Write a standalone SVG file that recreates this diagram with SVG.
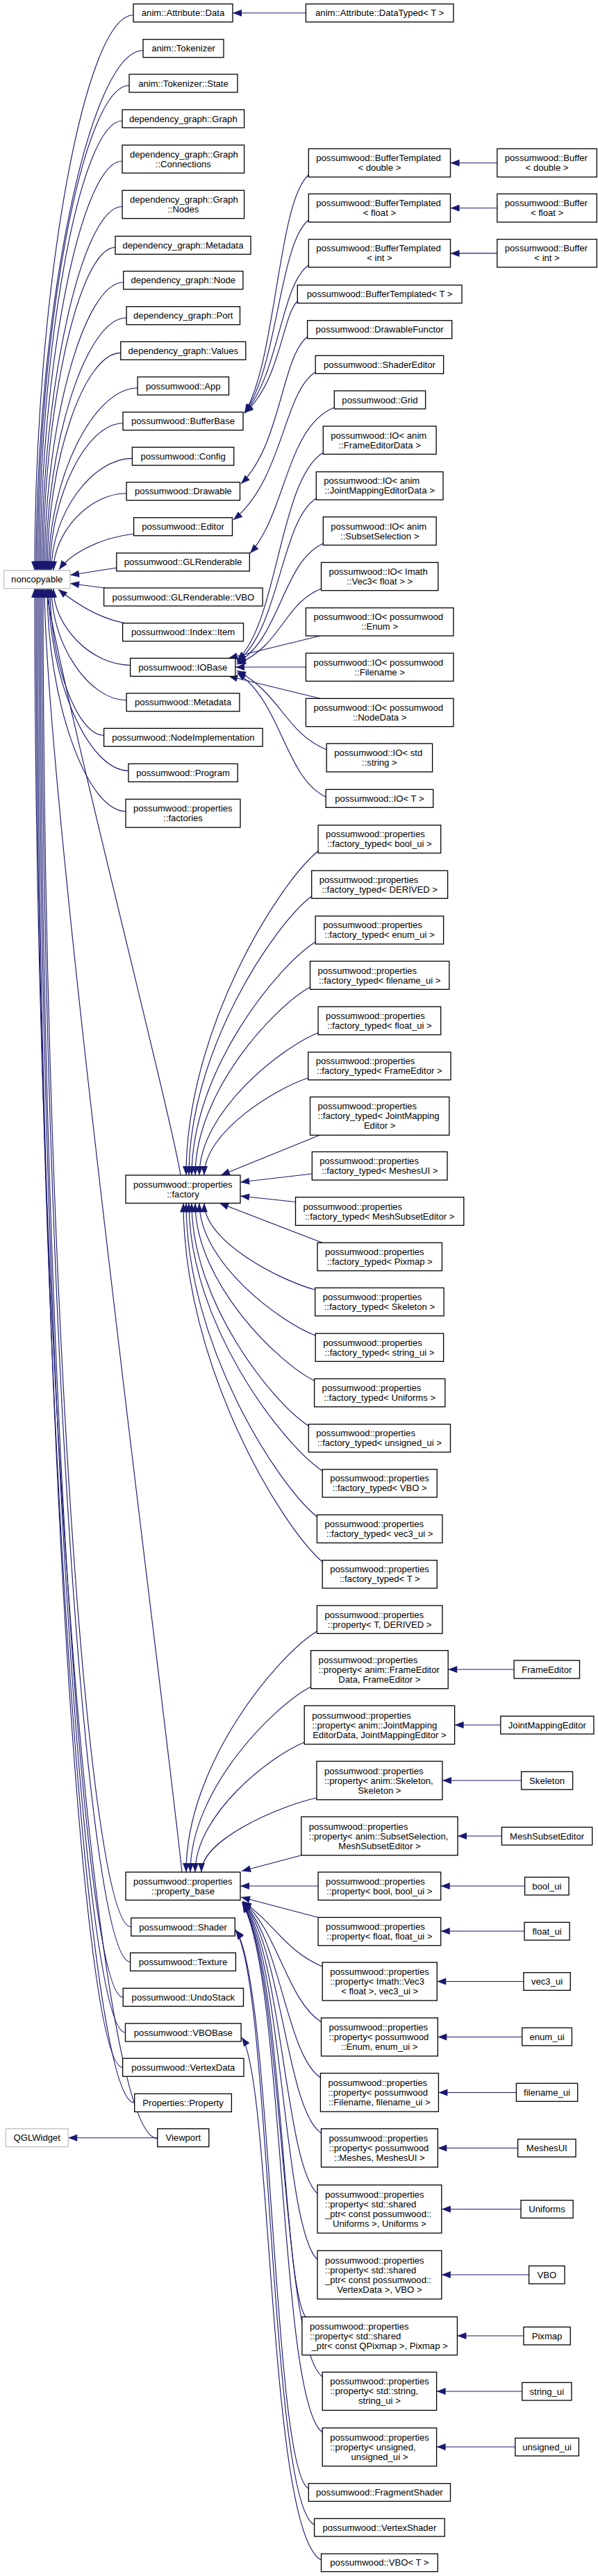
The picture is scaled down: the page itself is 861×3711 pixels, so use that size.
<svg xmlns="http://www.w3.org/2000/svg" width="861" height="3711" viewBox="0 0 861 3711">
<defs>
<marker id="ah" markerUnits="userSpaceOnUse" markerWidth="14" markerHeight="10" refX="13" refY="5" orient="auto" overflow="visible"><path d="M0,0 L13,5 L0,10 z" fill="#191970"/></marker>
</defs>
<style>
text{font-family:"Liberation Sans",Arial,Helvetica,sans-serif;font-size:13.1px;fill:#000;text-anchor:middle}
text.l{text-anchor:start}
.n rect{fill:#fff;stroke:#000;stroke-width:1.3}
.x rect{fill:#fff;stroke:#bfbfbf;stroke-width:1.3}
#edges path{fill:none;stroke:#191970;stroke-width:1.15;marker-end:url(#ah)}
</style>
<rect width="861" height="3711" fill="#fff"/>
<g id="edges">
<path d="M192,21.7 C121,21.7 50,421.7 50,821.7"/>
<path d="M206,72.7 C129,72.7 52,447.2 52,821.7"/>
<path d="M186,123 C120,123 54,472.4 54,821.7"/>
<path d="M176,174 C116,174 56,497.9 56,821.7"/>
<path d="M176,232 C117,232 58,526.9 58,821.7"/>
<path d="M176,297.5 C118,297.5 60,559.6 60,821.7"/>
<path d="M166,356.3 C114,356.3 62,589 62,821.7"/>
<path d="M177.7,406.7 C120.9,406.7 64,614.2 64,821.7"/>
<path d="M182.1,457.7 C124,457.7 66,639.7 66,821.7"/>
<path d="M173.8,508.3 C120.9,508.3 68,665 68,821.7"/>
<path d="M198.1,559 C134,559 70,690.4 70,821.7"/>
<path d="M177,609.7 C124.5,609.7 72,715.7 72,821.7"/>
<path d="M190.4,660.3 C132.2,660.3 74,741 74,821.7"/>
<path d="M182.1,710.7 C129.5,710.7 77,766.2 77,821.7"/>
<path d="M193,769 C140,775 100,800 85,820.5"/>
<path d="M167.8,818 L101,828.5"/>
<path d="M158,848 L101,840.5"/>
<path d="M188,899 C140,893 100,862 84,849"/>
<path d="M187.6,958.3 C132.3,958.3 77,903 77,847.7"/>
<path d="M182.1,1008.7 C128,1008.7 74,928.2 74,847.7"/>
<path d="M149.6,1059.3 C110.8,1059.3 72,953.5 72,847.7"/>
<path d="M184.9,1110.3 C127.5,1110.3 70,979 70,847.7"/>
<path d="M181,1168.7 C124.5,1168.7 68,1008.2 68,847.7"/>
<path d="M260,1693 C245,1600 90,1000 66,847.7"/>
<path d="M262,2697 C230,2400 66,1150 64,847.7"/>
<path d="M188.8,2776 C125.4,2776 62,1811.9 62,847.7"/>
<path d="M187.6,2826.3 C123.8,2826.3 60,1837 60,847.7"/>
<path d="M177.2,2877.3 C117.6,2877.3 58,1862.5 58,847.7"/>
<path d="M180.5,2928 C118.3,2928 56,1887.9 56,847.7"/>
<path d="M176.6,2978.3 C115.3,2978.3 54,1913 54,847.7"/>
<path d="M193.7,3029.3 C122.9,3029.3 52,1938.5 52,847.7"/>
<path d="M226.8,3080.7 C138.4,3080.7 50,1964.2 50,847.7"/>
<path d="M440.4,18.7 L335,18.7"/>
<path d="M444.3,252 C400,290 398,520 352,595"/>
<path d="M444.3,317 C402,350 400,530 352,595"/>
<path d="M444.3,382 C404,410 402,540 352,595"/>
<path d="M428.3,434 C406,455 404,550 352,595"/>
<path d="M715.8,234.7 L648.5,234.7"/>
<path d="M715.8,299.7 L648.5,299.7"/>
<path d="M715.8,364.9 L648.5,364.9"/>
<path d="M442.6,485 C405,515 405,640 347,697"/>
<path d="M454.2,536 C408,565 408,690 336,749"/>
<path d="M481.3,587 C412,615 412,740 360,797"/>
<path d="M465.3,652 C402,690 400,900 341,951"/>
<path d="M455.3,718 C404,750 402,910 341,953"/>
<path d="M465.3,783 C406,810 404,920 341,955"/>
<path d="M462.5,848 C408,870 406,930 341,957"/>
<path d="M461,916 L329,948.3"/>
<path d="M440.4,961 L339,961"/>
<path d="M461,1006.3 L329,974"/>
<path d="M470.2,1080 C410,1055 405,1000 341,966"/>
<path d="M469.1,1148 C410,1120 405,1010 341,969"/>
<path d="M458.1,1226 C401.1,1272.7 268,1482.9 268,1693"/>
<path d="M448.7,1291 C395.7,1331.2 272,1512.1 272,1693"/>
<path d="M454.2,1357 C400.7,1390.6 276,1541.8 276,1693"/>
<path d="M446.5,1422 C396.9,1449.1 281,1571 281,1693"/>
<path d="M458.1,1487.7 C406.8,1508.2 287,1600.6 287,1693"/>
<path d="M443.7,1553 C398.8,1567 294,1630 294,1693"/>
<path d="M461,1635 L318,1693"/>
<path d="M449.3,1691 L346,1703"/>
<path d="M425.5,1731.5 L346,1723"/>
<path d="M464,1790.3 L316,1733.3"/>
<path d="M453.7,1858 C405.8,1845.5 294,1789.4 294,1733.3"/>
<path d="M454.2,1924 C404,1904.9 287,1819 287,1733.3"/>
<path d="M452.6,1989 C401.1,1963.4 281,1848 281,1733.3"/>
<path d="M444.3,2054 C393.8,2022 276,1877 276,1733.3"/>
<path d="M464.2,2119 C406.5,2080.4 272,1906.9 272,1733.3"/>
<path d="M456.4,2185 C399.9,2139.8 268,1936.6 268,1733.3"/>
<path d="M464.2,2250 C404.1,2198.3 264,1965.8 264,1733.3"/>
<path d="M456.4,2350 C399.9,2384.7 268,2540.9 268,2697"/>
<path d="M447.6,2430 C395.5,2456.7 274,2576.9 274,2697"/>
<path d="M438.2,2510 C391,2528.7 281,2612.9 281,2697"/>
<path d="M455.9,2590 C406.1,2600.7 290,2648.9 290,2697"/>
<path d="M434,2672.7 L348,2695.5"/>
<path d="M458.1,2717 L346,2717"/>
<path d="M458.1,2762.3 L347,2733"/>
<path d="M464.2,2833 C410,2810 395,2770 349,2739"/>
<path d="M462.5,2913 C412,2880 400,2780 349,2739"/>
<path d="M461.4,2993 C412,2960 403,2790 349,2740"/>
<path d="M462.5,3073 C412,3040 405,2800 349,2740"/>
<path d="M457,3160 C410,3120 406,2810 349,2741"/>
<path d="M457,3255 C408,3210 407,2820 349,2741"/>
<path d="M440,3338 C406,3290 408,2830 349,2742"/>
<path d="M464.2,3424 C404,3380 409,2840 349,2742"/>
<path d="M464.2,3504 C402,3460 410,2850 349,2742"/>
<path d="M444.3,3585 C392,3560 392,2850 339,2780"/>
<path d="M452.6,3637 C388,3610 390,2850 339,2781"/>
<path d="M462.5,3688 C386,3650 392,3000 348,2935"/>
<path d="M740.1,2405 L645.2,2405"/>
<path d="M720.8,2485 L654.6,2485"/>
<path d="M750.6,2565 L636.9,2565"/>
<path d="M722.4,2645 L659,2645"/>
<path d="M755.6,2717 L634.7,2717"/>
<path d="M755,2782 L634.7,2782"/>
<path d="M753.9,2854.5 L629.2,2854.5"/>
<path d="M751.7,2934.5 L630.3,2934.5"/>
<path d="M743.4,3014.5 L631.4,3014.5"/>
<path d="M745.6,3094.5 L630.3,3094.5"/>
<path d="M750,3182.5 L635.8,3182.5"/>
<path d="M761.6,3277 L635.8,3277"/>
<path d="M753.9,3365 L658.4,3365"/>
<path d="M751.7,3445 L628.6,3445"/>
<path d="M741.8,3525 L628.6,3525"/>
<path d="M226.8,3079.7 L98.2,3079.7"/>
</g>
<g id="noncopyable" class="x"><rect x="5.5" y="821.7" width="95.5" height="26"/><text x="53.25" y="839.2">noncopyable</text></g>
<g id="qglwidget" class="x"><rect x="8.3" y="3066.7" width="89.9" height="26"/><text x="53.25" y="3084.2">QGLWidget</text></g>
<g id="attr_data" class="n"><rect x="192" y="5.7" width="143" height="26"/><text x="263.5" y="23.2">anim::Attribute::Data</text></g>
<g id="tokenizer" class="n"><rect x="206" y="56.7" width="116" height="26"/><text x="264" y="74.2">anim::Tokenizer</text></g>
<g id="tok_state" class="n"><rect x="186" y="107" width="156" height="26"/><text x="264" y="124.5">anim::Tokenizer::State</text></g>
<g id="dg_graph" class="n"><rect x="176" y="158" width="175.6" height="26"/><text x="263.8" y="175.5">dependency_graph::Graph</text></g>
<g id="dg_conn" class="n"><rect x="176" y="209" width="175.6" height="40.3"/><text class="l" x="187" y="226.65">dependency_graph::Graph</text><text x="263.8" y="240.65">::Connections</text></g>
<g id="dg_nodes" class="n"><rect x="176" y="274.3" width="175.6" height="40.4"/><text class="l" x="187" y="292">dependency_graph::Graph</text><text x="263.8" y="306">::Nodes</text></g>
<g id="dg_meta" class="n"><rect x="166" y="340.3" width="195" height="26"/><text x="263.5" y="357.8">dependency_graph::Metadata</text></g>
<g id="dg_node" class="n"><rect x="177.7" y="390.7" width="172.2" height="26"/><text x="263.8" y="408.2">dependency_graph::Node</text></g>
<g id="dg_port" class="n"><rect x="182.1" y="441.7" width="163.4" height="26"/><text x="263.8" y="459.2">dependency_graph::Port</text></g>
<g id="dg_values" class="n"><rect x="173.8" y="492.3" width="180" height="26"/><text x="263.8" y="509.8">dependency_graph::Values</text></g>
<g id="pw_app" class="n"><rect x="198.1" y="543" width="131.4" height="26"/><text x="263.8" y="560.5">possumwood::App</text></g>
<g id="pw_bufbase" class="n"><rect x="177" y="593.7" width="173" height="26"/><text x="263.5" y="611.2">possumwood::BufferBase</text></g>
<g id="pw_config" class="n"><rect x="190.4" y="644.3" width="146.3" height="26"/><text x="263.55" y="661.8">possumwood::Config</text></g>
<g id="pw_drawable" class="n"><rect x="182.1" y="694.7" width="163.4" height="26"/><text x="263.8" y="712.2">possumwood::Drawable</text></g>
<g id="pw_editor" class="n"><rect x="192.6" y="745.7" width="141.9" height="26"/><text x="263.55" y="763.2">possumwood::Editor</text></g>
<g id="pw_glr" class="n"><rect x="167.8" y="796.7" width="191.5" height="26"/><text x="263.55" y="814.2">possumwood::GLRenderable</text></g>
<g id="pw_glrvbo" class="n"><rect x="149.6" y="847" width="228.5" height="26"/><text x="263.85" y="864.5">possumwood::GLRenderable::VBO</text></g>
<g id="pw_item" class="n"><rect x="176.6" y="897.7" width="173.9" height="26"/><text x="263.55" y="915.2">possumwood::Index::Item</text></g>
<g id="pw_iobase" class="n"><rect x="187.6" y="948.3" width="151.3" height="26"/><text x="263.25" y="965.8">possumwood::IOBase</text></g>
<g id="pw_meta" class="n"><rect x="182.1" y="998.7" width="162.8" height="26"/><text x="263.5" y="1016.2">possumwood::Metadata</text></g>
<g id="pw_nodeimpl" class="n"><rect x="149.6" y="1049.3" width="228.5" height="26"/><text x="263.85" y="1066.8">possumwood::NodeImplementation</text></g>
<g id="pw_program" class="n"><rect x="184.9" y="1100.3" width="157.3" height="26"/><text x="263.55" y="1117.8">possumwood::Program</text></g>
<g id="pw_factories" class="n"><rect x="181" y="1151.3" width="165" height="40.7"/><text class="l" x="192" y="1169.15">possumwood::properties</text><text x="263.5" y="1183.15">::factories</text></g>
<g id="pw_factory" class="n"><rect x="181" y="1693" width="165" height="40.3"/><text class="l" x="192" y="1710.65">possumwood::properties</text><text x="263.5" y="1724.65">::factory</text></g>
<g id="pw_propbase" class="n"><rect x="181" y="2697" width="165" height="40.3"/><text class="l" x="192" y="2714.65">possumwood::properties</text><text x="263.5" y="2728.65">::property_base</text></g>
<g id="pw_shader" class="n"><rect x="188.8" y="2763" width="149.5" height="26"/><text x="263.55" y="2780.5">possumwood::Shader</text></g>
<g id="pw_texture" class="n"><rect x="187.6" y="2813.3" width="151.8" height="26"/><text x="263.5" y="2830.8">possumwood::Texture</text></g>
<g id="pw_undo" class="n"><rect x="177.2" y="2864.3" width="173.3" height="26"/><text x="263.85" y="2881.8">possumwood::UndoStack</text></g>
<g id="pw_vbobase" class="n"><rect x="180.5" y="2915" width="166.6" height="26"/><text x="263.8" y="2932.5">possumwood::VBOBase</text></g>
<g id="pw_vertexdata" class="n"><rect x="176.6" y="2965.3" width="174.4" height="26"/><text x="263.8" y="2982.8">possumwood::VertexData</text></g>
<g id="props_property" class="n"><rect x="193.7" y="3016.3" width="139.7" height="26"/><text x="263.55" y="3033.8">Properties::Property</text></g>
<g id="viewport" class="n"><rect x="226.8" y="3066.7" width="74" height="26"/><text x="263.8" y="3084.2">Viewport</text></g>
<g id="datatyped" class="n"><rect x="440.4" y="5.7" width="212.5" height="26"/><text x="546.65" y="23.2">anim::Attribute::DataTyped&lt; T &gt;</text></g>
<g id="bt_double" class="n"><rect x="444.3" y="214.3" width="204.2" height="40.7"/><text class="l" x="455.3" y="232.15">possumwood::BufferTemplated</text><text x="546.4" y="246.15">&lt; double &gt;</text></g>
<g id="bt_float" class="n"><rect x="444.3" y="279.3" width="204.2" height="40.7"/><text class="l" x="455.3" y="297.15">possumwood::BufferTemplated</text><text x="546.4" y="311.15">&lt; float &gt;</text></g>
<g id="bt_int" class="n"><rect x="444.3" y="344.7" width="204.2" height="40.3"/><text class="l" x="455.3" y="362.35">possumwood::BufferTemplated</text><text x="546.4" y="376.35">&lt; int &gt;</text></g>
<g id="bt_T" class="n"><rect x="428.3" y="410.7" width="236.7" height="26"/><text x="546.65" y="428.2">possumwood::BufferTemplated&lt; T &gt;</text></g>
<g id="drawfunc" class="n"><rect x="442.6" y="461.7" width="208.1" height="26"/><text x="546.65" y="479.2">possumwood::DrawableFunctor</text></g>
<g id="shadereditor" class="n"><rect x="454.2" y="512.3" width="184.4" height="26"/><text x="546.4" y="529.8">possumwood::ShaderEditor</text></g>
<g id="grid" class="n"><rect x="481.3" y="563" width="131.3" height="26"/><text x="546.95" y="580.5">possumwood::Grid</text></g>
<g id="io_fed" class="n"><rect x="465.3" y="614" width="162.8" height="40.3"/><text class="l" x="476.3" y="631.65">possumwood::IO&lt; anim</text><text x="546.7" y="645.65">::FrameEditorData &gt;</text></g>
<g id="io_jmed" class="n"><rect x="455.3" y="679.7" width="182.7" height="40.3"/><text class="l" x="466.3" y="697.35">possumwood::IO&lt; anim</text><text x="546.65" y="711.35">::JointMappingEditorData &gt;</text></g>
<g id="io_subset" class="n"><rect x="465.3" y="744.7" width="162.8" height="40.6"/><text class="l" x="476.3" y="762.5">possumwood::IO&lt; anim</text><text x="546.7" y="776.5">::SubsetSelection &gt;</text></g>
<g id="io_vec3" class="n"><rect x="462.5" y="810.3" width="168.3" height="40.4"/><text class="l" x="473.5" y="828">possumwood::IO&lt; Imath</text><text x="546.65" y="842">::Vec3&lt; float &gt; &gt;</text></g>
<g id="io_enum" class="n"><rect x="440.4" y="875.7" width="212.5" height="40.3"/><text class="l" x="451.4" y="893.35">possumwood::IO&lt; possumwood</text><text x="546.65" y="907.35">::Enum &gt;</text></g>
<g id="io_filename" class="n"><rect x="440.4" y="941" width="212.5" height="40.3"/><text class="l" x="451.4" y="958.65">possumwood::IO&lt; possumwood</text><text x="546.65" y="972.65">::Filename &gt;</text></g>
<g id="io_nodedata" class="n"><rect x="440.4" y="1006.3" width="212.5" height="40.4"/><text class="l" x="451.4" y="1024">possumwood::IO&lt; possumwood</text><text x="546.65" y="1038">::NodeData &gt;</text></g>
<g id="io_string" class="n"><rect x="470.2" y="1071.3" width="152.4" height="40.7"/><text class="l" x="481.2" y="1089.15">possumwood::IO&lt; std</text><text x="546.4" y="1103.15">::string &gt;</text></g>
<g id="io_T" class="n"><rect x="469.1" y="1137.3" width="154.6" height="26"/><text x="546.4" y="1154.8">possumwood::IO&lt; T &gt;</text></g>
<g id="ft_bool" class="n"><rect x="458.1" y="1188.7" width="176.6" height="40.3"/><text class="l" x="469.1" y="1206.35">possumwood::properties</text><text x="546.4" y="1220.35">::factory_typed&lt; bool_ui &gt;</text></g>
<g id="ft_derived" class="n"><rect x="448.7" y="1254.3" width="195.9" height="40"/><text class="l" x="459.7" y="1271.8">possumwood::properties</text><text x="546.65" y="1285.8">::factory_typed&lt; DERIVED &gt;</text></g>
<g id="ft_enum" class="n"><rect x="454.2" y="1319.7" width="184.4" height="40.3"/><text class="l" x="465.2" y="1337.35">possumwood::properties</text><text x="546.4" y="1351.35">::factory_typed&lt; enum_ui &gt;</text></g>
<g id="ft_filename" class="n"><rect x="446.5" y="1384.7" width="200.3" height="40.6"/><text class="l" x="457.5" y="1402.5">possumwood::properties</text><text x="546.65" y="1416.5">::factory_typed&lt; filename_ui &gt;</text></g>
<g id="ft_float" class="n"><rect x="458.1" y="1450.3" width="176.6" height="40.4"/><text class="l" x="469.1" y="1468">possumwood::properties</text><text x="546.4" y="1482">::factory_typed&lt; float_ui &gt;</text></g>
<g id="ft_frameeditor" class="n"><rect x="443.7" y="1515.7" width="205.3" height="40"/><text class="l" x="454.7" y="1533.2">possumwood::properties</text><text x="546.35" y="1547.2">::factory_typed&lt; FrameEditor &gt;</text></g>
<g id="ft_joint" class="n"><rect x="446.5" y="1580.3" width="200.3" height="55"/><text class="l" x="457.5" y="1598.3">possumwood::properties</text><text class="l" x="457.5" y="1612.3">::factory_typed&lt; JointMapping</text><text x="546.65" y="1626.3">Editor &gt;</text></g>
<g id="ft_meshesui" class="n"><rect x="449.3" y="1659.3" width="194.7" height="40.7"/><text class="l" x="460.3" y="1677.15">possumwood::properties</text><text x="546.65" y="1691.15">::factory_typed&lt; MeshesUI &gt;</text></g>
<g id="ft_meshsubset" class="n"><rect x="425.5" y="1724.7" width="242.3" height="40.6"/><text class="l" x="436.5" y="1742.5">possumwood::properties</text><text x="546.65" y="1756.5">::factory_typed&lt; MeshSubsetEditor &gt;</text></g>
<g id="ft_pixmap" class="n"><rect x="457" y="1790.3" width="179.4" height="40.4"/><text class="l" x="468" y="1808">possumwood::properties</text><text x="546.7" y="1822">::factory_typed&lt; Pixmap &gt;</text></g>
<g id="ft_skeleton" class="n"><rect x="453.7" y="1855.3" width="185.4" height="40.4"/><text class="l" x="464.7" y="1873">possumwood::properties</text><text x="546.4" y="1887">::factory_typed&lt; Skeleton &gt;</text></g>
<g id="ft_string" class="n"><rect x="454.2" y="1921" width="184.4" height="40.3"/><text class="l" x="465.2" y="1938.65">possumwood::properties</text><text x="546.4" y="1952.65">::factory_typed&lt; string_ui &gt;</text></g>
<g id="ft_uniforms" class="n"><rect x="452.6" y="1986.3" width="188.2" height="40.4"/><text class="l" x="463.6" y="2004">possumwood::properties</text><text x="546.7" y="2018">::factory_typed&lt; Uniforms &gt;</text></g>
<g id="ft_unsigned" class="n"><rect x="444.3" y="2051.7" width="204.2" height="40.3"/><text class="l" x="455.3" y="2069.35">possumwood::properties</text><text x="546.4" y="2083.35">::factory_typed&lt; unsigned_ui &gt;</text></g>
<g id="ft_vbo" class="n"><rect x="464.2" y="2116.7" width="165" height="40.3"/><text class="l" x="475.2" y="2134.35">possumwood::properties</text><text x="546.7" y="2148.35">::factory_typed&lt; VBO &gt;</text></g>
<g id="ft_vec3" class="n"><rect x="456.4" y="2182.3" width="180.5" height="40.4"/><text class="l" x="467.4" y="2200">possumwood::properties</text><text x="546.65" y="2214">::factory_typed&lt; vec3_ui &gt;</text></g>
<g id="ft_T" class="n"><rect x="464.2" y="2247.7" width="165" height="40.3"/><text class="l" x="475.2" y="2265.35">possumwood::properties</text><text x="546.7" y="2279.35">::factory_typed&lt; T &gt;</text></g>
<g id="pr_T" class="n"><rect x="456.4" y="2313" width="180.5" height="40.3"/><text class="l" x="467.4" y="2330.65">possumwood::properties</text><text x="546.65" y="2344.65">::property&lt; T, DERIVED &gt;</text></g>
<g id="pr_frame" class="n"><rect x="447.6" y="2377.7" width="197.6" height="55"/><text class="l" x="458.6" y="2395.7">possumwood::properties</text><text class="l" x="458.6" y="2409.7">::property&lt; anim::FrameEditor</text><text x="546.4" y="2423.7">Data, FrameEditor &gt;</text></g>
<g id="pr_joint" class="n"><rect x="438.2" y="2457.3" width="216.4" height="55.4"/><text class="l" x="449.2" y="2475.5">possumwood::properties</text><text class="l" x="449.2" y="2489.5">::property&lt; anim::JointMapping</text><text x="546.4" y="2503.5">EditorData, JointMappingEditor &gt;</text></g>
<g id="pr_skel" class="n"><rect x="455.9" y="2537.3" width="181" height="55.4"/><text class="l" x="466.9" y="2555.5">possumwood::properties</text><text class="l" x="466.9" y="2569.5">::property&lt; anim::Skeleton,</text><text x="546.4" y="2583.5">Skeleton &gt;</text></g>
<g id="pr_subset" class="n"><rect x="433.8" y="2617.3" width="225.2" height="55.4"/><text class="l" x="444.8" y="2635.5">possumwood::properties</text><text class="l" x="444.8" y="2649.5">::property&lt; anim::SubsetSelection,</text><text x="546.4" y="2663.5">MeshSubsetEditor &gt;</text></g>
<g id="pr_bool" class="n"><rect x="458.1" y="2697" width="176.6" height="40.3"/><text class="l" x="469.1" y="2714.65">possumwood::properties</text><text x="546.4" y="2728.65">::property&lt; bool, bool_ui &gt;</text></g>
<g id="pr_float" class="n"><rect x="458.1" y="2762.3" width="176.6" height="40.4"/><text class="l" x="469.1" y="2780">possumwood::properties</text><text x="546.4" y="2794">::property&lt; float, float_ui &gt;</text></g>
<g id="pr_vec3" class="n"><rect x="464.2" y="2827" width="165" height="55"/><text class="l" x="475.2" y="2845">possumwood::properties</text><text class="l" x="475.2" y="2859">::property&lt; Imath::Vec3</text><text x="546.7" y="2873">&lt; float &gt;, vec3_ui &gt;</text></g>
<g id="pr_enum" class="n"><rect x="462.5" y="2907" width="167.8" height="55"/><text class="l" x="473.5" y="2925">possumwood::properties</text><text class="l" x="473.5" y="2939">::property&lt; possumwood</text><text x="546.4" y="2953">::Enum, enum_ui &gt;</text></g>
<g id="pr_filename" class="n"><rect x="461.4" y="2986.7" width="170" height="55.3"/><text class="l" x="472.4" y="3004.85">possumwood::properties</text><text class="l" x="472.4" y="3018.85">::property&lt; possumwood</text><text x="546.4" y="3032.85">::Filename, filename_ui &gt;</text></g>
<g id="pr_meshes" class="n"><rect x="462.5" y="3066.7" width="167.8" height="55.3"/><text class="l" x="473.5" y="3084.85">possumwood::properties</text><text class="l" x="473.5" y="3098.85">::property&lt; possumwood</text><text x="546.4" y="3112.85">::Meshes, MeshesUI &gt;</text></g>
<g id="pr_uniforms" class="n"><rect x="457" y="3147.7" width="178.8" height="69.3"/><text class="l" x="468" y="3165.85">possumwood::properties</text><text class="l" x="468" y="3179.85">::property&lt; std::shared</text><text class="l" x="468" y="3193.85">_ptr&lt; const possumwood::</text><text x="546.4" y="3207.85">Uniforms &gt;, Uniforms &gt;</text></g>
<g id="pr_vertex" class="n"><rect x="457" y="3242.3" width="178.8" height="69.7"/><text class="l" x="468" y="3260.65">possumwood::properties</text><text class="l" x="468" y="3274.65">::property&lt; std::shared</text><text class="l" x="468" y="3288.65">_ptr&lt; const possumwood::</text><text x="546.4" y="3302.65">VertexData &gt;, VBO &gt;</text></g>
<g id="pr_pixmap" class="n"><rect x="434.9" y="3337.7" width="223.5" height="55"/><text class="l" x="445.9" y="3355.7">possumwood::properties</text><text class="l" x="445.9" y="3369.7">::property&lt; std::shared</text><text x="546.65" y="3383.7">_ptr&lt; const QPixmap &gt;, Pixmap &gt;</text></g>
<g id="pr_string" class="n"><rect x="464.2" y="3417.3" width="164.4" height="55"/><text class="l" x="475.2" y="3435.3">possumwood::properties</text><text class="l" x="475.2" y="3449.3">::property&lt; std::string,</text><text x="546.4" y="3463.3">string_ui &gt;</text></g>
<g id="pr_unsigned" class="n"><rect x="464.2" y="3497.7" width="164.4" height="55"/><text class="l" x="475.2" y="3515.7">possumwood::properties</text><text class="l" x="475.2" y="3529.7">::property&lt; unsigned,</text><text x="546.4" y="3543.7">unsigned_ui &gt;</text></g>
<g id="fragshader" class="n"><rect x="444.3" y="3577.7" width="204.2" height="25.7"/><text x="546.4" y="3595.05">possumwood::FragmentShader</text></g>
<g id="vertshader" class="n"><rect x="452.6" y="3628.3" width="187.6" height="25.7"/><text x="546.4" y="3645.65">possumwood::VertexShader</text></g>
<g id="vbo_T" class="n"><rect x="462.5" y="3679" width="167.8" height="25.7"/><text x="546.4" y="3696.35">possumwood::VBO&lt; T &gt;</text></g>
<g id="buf_double" class="n"><rect x="715.8" y="214.3" width="143.5" height="40.7"/><text class="l" x="726.8" y="232.15">possumwood::Buffer</text><text x="787.55" y="246.15">&lt; double &gt;</text></g>
<g id="buf_float" class="n"><rect x="715.8" y="279.3" width="143.5" height="40.7"/><text class="l" x="726.8" y="297.15">possumwood::Buffer</text><text x="787.55" y="311.15">&lt; float &gt;</text></g>
<g id="buf_int" class="n"><rect x="715.8" y="344.7" width="143.5" height="40.3"/><text class="l" x="726.8" y="362.35">possumwood::Buffer</text><text x="787.55" y="376.35">&lt; int &gt;</text></g>
<g id="frameeditor" class="n"><rect x="740.1" y="2392" width="94.4" height="26"/><text x="787.3" y="2409.5">FrameEditor</text></g>
<g id="jointmappingeditor" class="n"><rect x="720.8" y="2472.3" width="134.1" height="25.7"/><text x="787.85" y="2489.65">JointMappingEditor</text></g>
<g id="skeleton" class="n"><rect x="750.6" y="2552.3" width="74" height="25.7"/><text x="787.6" y="2569.65">Skeleton</text></g>
<g id="meshsubseteditor" class="n"><rect x="722.4" y="2632.3" width="130.3" height="25.7"/><text x="787.55" y="2649.65">MeshSubsetEditor</text></g>
<g id="bool_ui" class="n"><rect x="755.6" y="2704.3" width="63.4" height="25.7"/><text x="787.3" y="2721.65">bool_ui</text></g>
<g id="float_ui" class="n"><rect x="755" y="2769.3" width="65.1" height="25.7"/><text x="787.55" y="2786.65">float_ui</text></g>
<g id="vec3_ui" class="n"><rect x="753.9" y="2841.7" width="67.3" height="25.6"/><text x="787.55" y="2859">vec3_ui</text></g>
<g id="enum_ui" class="n"><rect x="751.7" y="2921.3" width="71.7" height="25.7"/><text x="787.55" y="2938.65">enum_ui</text></g>
<g id="filename_ui" class="n"><rect x="743.4" y="3001.3" width="88.3" height="26"/><text x="787.55" y="3018.8">filename_ui</text></g>
<g id="meshesui" class="n"><rect x="745.6" y="3081.7" width="83.4" height="25.6"/><text x="787.3" y="3099">MeshesUI</text></g>
<g id="uniforms" class="n"><rect x="750" y="3169.7" width="75.1" height="25.6"/><text x="787.55" y="3187">Uniforms</text></g>
<g id="vbo" class="n"><rect x="761.6" y="3264.3" width="51.4" height="25.7"/><text x="787.3" y="3281.65">VBO</text></g>
<g id="pixmap" class="n"><rect x="753.9" y="3352.3" width="67.3" height="25.7"/><text x="787.55" y="3369.65">Pixmap</text></g>
<g id="string_ui" class="n"><rect x="751.7" y="3432.3" width="71.2" height="25.7"/><text x="787.3" y="3449.65">string_ui</text></g>
<g id="unsigned_ui" class="n"><rect x="741.8" y="3512.3" width="91.6" height="25.7"/><text x="787.6" y="3529.65">unsigned_ui</text></g>
</svg>
